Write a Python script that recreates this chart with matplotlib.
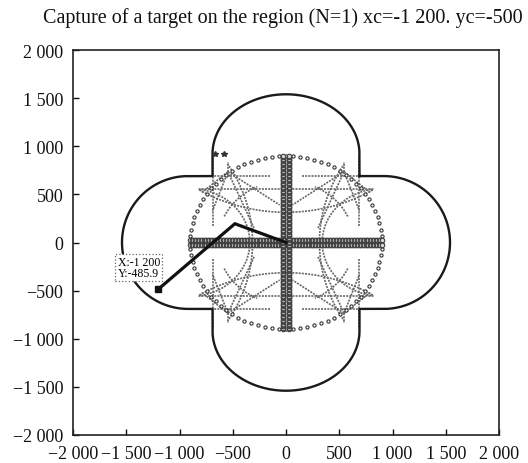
import numpy as np
import matplotlib
matplotlib.use("Agg")
import matplotlib.pyplot as plt
from matplotlib.ticker import FuncFormatter

plt.rcParams['font.family'] = ['Liberation Serif', 'DejaVu Serif']

# ---------------- data ----------------
title = "Capture of a target on the region (N=1) xc=-1 200. yc=-500"
axis_ticks = [-2000, -1500, -1000, -500, 0, 500, 1000, 1500, 2000]

# outer boundary: four lobes (half-width, cap centre distance, cap depth)
lobe_halfwidth = 690
lobe_cap_center = 920
lobe_cap_depth = 620

# search circle
scan_radius = 900
scan_points = 84

# cross bars (double rows of markers)
bar_offsets = [-30, 30]
bar_extent = 900
bar_points = 130

# grey trajectories, canonical quadrant (x>=0, y>=0), mirrored to four quadrants
grey_segments = [
    # (x0, y0, x1, y1)
    (150, 694, 823, 694),
    (0, 556, 823, 556),
    (682, 175, 682, 902),
    (545, 735, 545, 835),
    (545, 735, 60, 390),
    (545, 735, 300, 150),
    (545, 735, 790, 520),
    (545, 735, 690, 330),
]
grey_arcs = [
    # (cx, cy, r, theta0_deg, theta1_deg)
    (0, 1857, 1543, 270, 302),
    (900, 0, 560, 100, 180),
    (0, 0, 640, 25, 65),
]

# markers near the top lobe
star_x = [-670, -582]
star_y = [918, 918]

# capture trajectory
path_x = [0, -480, -1200]
path_y = [0, 195, -485.9]
target_x = -1200
target_y = -485.9
label_text = "X:-1 200\nY:-485.9"

# ---------------- figure ----------------
fig = plt.figure(figsize=(5.28, 4.64), dpi=100)
ax = fig.add_axes([73/528, 1-436/464, 426/528, 385/464])

def fmt(v, pos=None):
    s = f"{int(abs(round(v))):,}".replace(",", " ")
    return ("\u2212" + s) if v < 0 else s

# grey pattern
grey = '#666666'
gls = (0, (1.2, 0.7))
for sx in (1, -1):
    for sy in (1, -1):
        for (x0, y0, x1, y1) in grey_segments:
            ax.plot([sx*x0, sx*x1], [sy*y0, sy*y1], color=grey, lw=1.2,
                    ls=gls, zorder=2)
        for (cx, cy, r, t0, t1) in grey_arcs:
            t = np.radians(np.linspace(t0, t1, 60))
            ax.plot(sx*(cx + r*np.cos(t)), sy*(cy + r*np.sin(t)), color=grey,
                    lw=1.2, ls=gls, zorder=2)
        # side-lobe copy of the big arc (x/y swapped)
        cx, cy, r, t0, t1 = grey_arcs[0]
        t = np.radians(np.linspace(t0, t1, 60))
        ax.plot(sx*(cy + r*np.sin(t)), sy*(cx + r*np.cos(t)), color=grey,
                lw=1.2, ls=gls, zorder=2)

# outer boundary
def lobe():
    t = np.linspace(0, np.pi, 60)
    xs = [lobe_halfwidth, lobe_halfwidth]
    ys = [lobe_halfwidth, lobe_cap_center]
    xs += list(lobe_halfwidth*np.cos(t))
    ys += list(lobe_cap_center + lobe_cap_depth*np.sin(t))
    xs += [-lobe_halfwidth, -lobe_halfwidth]
    ys += [lobe_cap_center, lobe_halfwidth]
    return np.array(xs), np.array(ys)

bx, by = [], []
lx, ly = lobe()
for k in range(4):
    ang = k*np.pi/2
    rx = lx*np.cos(ang) - ly*np.sin(ang)
    ry = lx*np.sin(ang) + ly*np.cos(ang)
    bx += list(rx)
    by += list(ry)
bx.append(bx[0]); by.append(by[0])
ax.plot(bx, by, color='#1a1a1a', lw=1.7, zorder=3)

# search circle (dotted with small open markers)
t = np.linspace(0, 2*np.pi, scan_points, endpoint=False)
ax.plot(scan_radius*np.cos(t), scan_radius*np.sin(t), ls='none', marker='o',
        ms=2.3, mfc='white', mec='#333333', mew=0.8, zorder=3)

# cross bars
s = np.linspace(-bar_extent, bar_extent, bar_points)
for off in bar_offsets:
    ax.plot(s, np.full_like(s, off), ls='none', marker='o', ms=3.2, mfc='#d8d8d8',
            mec='#404040', mew=0.8, zorder=4)
    ax.plot(np.full_like(s, off), s, ls='none', marker='o', ms=3.2, mfc='#d8d8d8',
            mec='#404040', mew=0.8, zorder=4)

# small markers
ax.plot(star_x, star_y, ls='none', marker='*', ms=4, color='#333333', zorder=4)

# capture path
ax.plot(path_x, path_y, color='#111111', lw=2.3, zorder=5, solid_joinstyle='miter')
ax.plot([target_x], [target_y], ls='none', marker='s', ms=4.5, color='#111111', zorder=6)
ax.annotate(label_text, xy=(target_x, target_y), xytext=(-14, 15.5),
            textcoords='offset points', ha='center', va='center', fontsize=8.5,
            linespacing=0.9,
            bbox=dict(boxstyle='square,pad=0.18', fc='white', ec='#666666',
                      ls=':', lw=0.9), zorder=7)

# axes styling
ax.set_xlim(-2000, 2000)
ax.set_ylim(-2000, 2000)
ax.set_xticks(axis_ticks)
ax.set_yticks(axis_ticks)
ax.xaxis.set_major_formatter(FuncFormatter(fmt))
ax.yaxis.set_major_formatter(FuncFormatter(fmt))
ax.tick_params(direction='in', length=4, width=1, labelsize=13, pad=7,
               top=False, right=False, colors='#111111')
for sp in ax.spines.values():
    sp.set_linewidth(1.2)
    sp.set_color('#222222')

fig.text(282.5/528, 1-18/464, title, ha='center', va='center', fontsize=14.5,
         color='#111111')

fig.savefig('out.png', dpi=100)
